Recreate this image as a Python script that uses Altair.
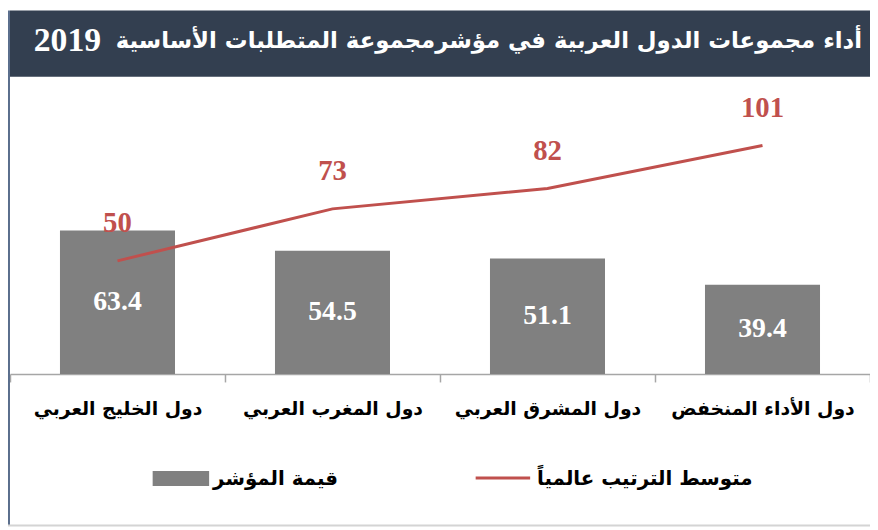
import altair as alt
import pandas as pd

categories = ["دول الخليج العربي", "دول المغرب العربي", "دول المشرق العربي", "دول الأداء المنخفض"]
index_values = [63.4, 54.5, 51.1, 39.4]
rank_values = [50, 73, 82, 101]
legend_labels = ["قيمة المؤشر", "متوسط الترتيب عالمياً"]
title_text = "أداء مجموعات الدول العربية في مؤشرمجموعة المتطلبات الأساسية"
title_year = "2019"

RED = "#c0504d"
GREY = "#808080"
NAVY = "#333f50"
ARABIC_FONT = "DejaVu Sans"
NUM_FONT = "Liberation Serif"

df = pd.DataFrame({
    "cat": categories,
    "value": index_values,
    "half": [v / 2 for v in index_values],
    "rank": rank_values,
})

xenc = alt.X(
    "cat:N",
    sort=categories,
    title=None,
    scale=alt.Scale(paddingInner=0, paddingOuter=0),
    axis=alt.Axis(
        labelAngle=0,
        labelFont=ARABIC_FONT,
        labelFontSize=19,
        labelFontWeight="bold",
        labelColor="black",
        labelBaseline="middle",
        labelPadding=27,
        labelLimit=400,
        tickSize=8,
        tickBand="extent",
        tickColor="#a6a6a6",
        domainColor="#a6a6a6",
        domainWidth=1.5,
        tickWidth=1.5,
        grid=False,
    ),
)
yscale = alt.Scale(domain=[0, 127])

base = alt.Chart(df)

bars = base.mark_bar(color=GREY, width=alt.RelativeBandSize(0.535)).encode(
    x=xenc,
    y=alt.Y("value:Q", scale=yscale, axis=None),
)
bar_text = base.mark_text(
    color="white", font=NUM_FONT, fontSize=28, fontWeight="bold", baseline="middle"
).encode(
    x=alt.X("cat:N", sort=categories),
    y=alt.Y("half:Q", scale=yscale, axis=None),
    text=alt.Text("value:Q", format=".1f"),
)
line = base.mark_line(color=RED, strokeWidth=3).encode(
    x=alt.X("cat:N", sort=categories),
    y=alt.Y("rank:Q", scale=yscale, axis=None),
)
line_text = base.mark_text(
    color=RED, font=NUM_FONT, fontSize=29, fontWeight="bold", baseline="middle", dy=-38
).encode(
    x=alt.X("cat:N", sort=categories),
    y=alt.Y("rank:Q", scale=yscale, axis=None),
    text=alt.Text("rank:Q"),
)

one = alt.Chart(pd.DataFrame({
    "title": [title_text], "year": [title_year],
    "l0": [legend_labels[0]], "l1": [legend_labels[1]],
}))

title_box = one.mark_rect(color=NAVY).encode(
    x=alt.value(0), x2=alt.value(868), y=alt.value(-77), y2=alt.value(-10)
)
title_mark = one.mark_text(
    color="white", font=ARABIC_FONT, fontSize=23, fontWeight="bold",
    align="right", baseline="middle",
).encode(x=alt.value(860), y=alt.value(-46), text="title:N")
year_mark = one.mark_text(
    color="white", font=NUM_FONT, fontSize=34, fontWeight="bold",
    align="left", baseline="middle",
).encode(x=alt.value(24), y=alt.value(-46), text="year:N")

left_border = one.mark_rule(color="#5a6e8c", strokeWidth=2).encode(
    x=alt.value(-1), y=alt.value(-77), y2=alt.value(443)
)
bottom_border = one.mark_rule(color="#d4d4d4", strokeWidth=2).encode(
    x=alt.value(-2), x2=alt.value(868), y=alt.value(443)
)

leg_rect = one.mark_rect(color=GREY).encode(
    x=alt.value(144), x2=alt.value(201), y=alt.value(388), y2=alt.value(403)
)
leg_text0 = one.mark_text(
    font=ARABIC_FONT, fontSize=20, fontWeight="bold", color="black", align="left", baseline="middle"
).encode(x=alt.value(205), y=alt.value(396), text="l0:N")
leg_line = one.mark_rule(color=RED, strokeWidth=3).encode(
    x=alt.value(470), x2=alt.value(525), y=alt.value(395)
)
leg_text1 = one.mark_text(
    font=ARABIC_FONT, fontSize=20, fontWeight="bold", color="black", align="left", baseline="middle"
).encode(x=alt.value(532), y=alt.value(396), text="l1:N")

chart = alt.layer(
    title_box, title_mark, year_mark, left_border, bottom_border,
    bars, bar_text, line, line_text,
    leg_rect, leg_text0, leg_line, leg_text1,
).properties(
    width=868,
    height=290,
    padding={"left": 2, "top": 77, "right": 0, "bottom": 153},
    autosize=alt.AutoSizeParams(type="none"),
    background="white",
).configure_view(stroke=None)

chart.save("out.html", embed_options={"renderer": "svg", "actions": False})
